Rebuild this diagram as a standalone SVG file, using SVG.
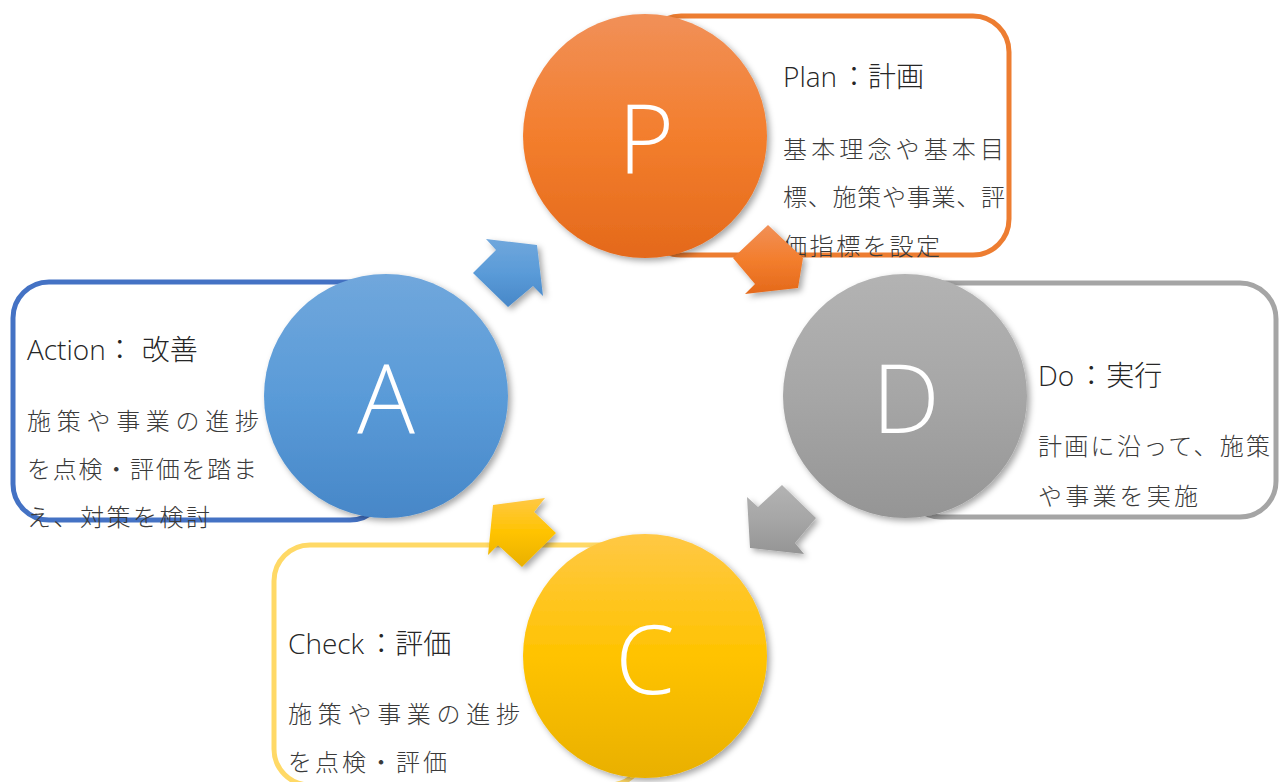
<svg xmlns="http://www.w3.org/2000/svg" width="1280" height="782" viewBox="0 0 1280 782">
<style>
.box{fill:#FFFFFF;stroke-width:5}
.letter{font-family:"Open Sans","Liberation Sans",sans-serif;font-weight:300;font-size:96px;fill:#FFFFFF;text-anchor:middle}
.title{font-family:"Open Sans","Noto Sans CJK JP",sans-serif;font-weight:300;font-size:28px;fill:#262626}
.body{font-family:"Noto Sans CJK JP",sans-serif;font-weight:300;font-size:24px;fill:#3A3A3A}
.sh{filter:url(#shadow)}
</style>
<defs>
<filter id="shadow" x="-20%" y="-20%" width="150%" height="150%">
<feDropShadow dx="3" dy="3" stdDeviation="3" flood-color="#000000" flood-opacity="0.35"/>
</filter>
<linearGradient id="gO" x1="0" y1="0" x2="0" y2="1"><stop offset="0" stop-color="#F19058"/><stop offset="0.5" stop-color="#F37E2D"/><stop offset="1" stop-color="#E4691B"/></linearGradient>
<linearGradient id="gB" x1="0" y1="0" x2="0" y2="1"><stop offset="0" stop-color="#70A7DC"/><stop offset="0.5" stop-color="#5A9BD8"/><stop offset="1" stop-color="#4787C8"/></linearGradient>
<linearGradient id="gG" x1="0" y1="0" x2="0" y2="1"><stop offset="0" stop-color="#B3B3B3"/><stop offset="0.5" stop-color="#A6A6A6"/><stop offset="1" stop-color="#959595"/></linearGradient>
<linearGradient id="gY" x1="0" y1="0" x2="0" y2="1"><stop offset="0" stop-color="#FFC845"/><stop offset="0.5" stop-color="#FFC300"/><stop offset="1" stop-color="#E9B000"/></linearGradient>
</defs>
<rect width="1280" height="782" fill="#FFFFFF"/>

<g id="node-P">
<rect class="box" x="645" y="16" width="364" height="239" rx="36" stroke="#ED7D31"/>
<circle class="sh" cx="645" cy="136" r="122" fill="url(#gO)"/>
<text class="letter" x="646" y="173">P</text>
<text class="title" x="783" y="87">Plan<tspan dx="3">：</tspan>計画</text>
<text class="body" x="783" y="158" textLength="221">基本理念や基本目</text>
<text class="body" x="783" y="206" textLength="222">標、施策や事業、評</text>
<text class="body" x="783" y="255" textLength="157">価指標を設定</text>
</g>

<g id="node-D">
<rect class="box" x="905" y="283" width="371" height="234" rx="36" stroke="#A5A5A5"/>
<circle class="sh" cx="905" cy="396" r="122" fill="url(#gG)"/>
<text class="letter" x="906" y="433">D</text>
<text class="title" x="1038" y="386">Do<tspan dx="3">：</tspan><tspan dx="1">実行</tspan></text>
<text class="body" x="1038" y="455" textLength="232">計画に沿って、施策</text>
<text class="body" x="1038" y="505" textLength="160">や事業を実施</text>
</g>

<g id="node-A">
<rect class="box" x="13" y="282" width="373" height="238" rx="36" stroke="#4472C4"/>
<circle class="sh" cx="386" cy="396" r="122" fill="url(#gB)"/>
<text class="letter" x="386" y="433">A</text>
<text class="title" x="27" y="360">Action：<tspan dx="8">改善</tspan></text>
<text class="body" x="27" y="430" textLength="232">施策や事業の進捗</text>
<text class="body" x="27" y="478" textLength="230">を点検・評価を踏ま</text>
<text class="body" x="27" y="526" textLength="183">え、対策を検討</text>
</g>

<g id="node-C">
<rect class="box" x="274" y="545" width="371" height="240" rx="36" stroke="#FFD966"/>
<circle class="sh" cx="645" cy="656" r="122" fill="url(#gY)"/>
<text class="letter" x="645" y="694">C</text>
<text class="title" x="288" y="654">Check<tspan dx="3">：</tspan>評価</text>
<text class="body" x="288" y="723" textLength="232">施策や事業の進捗</text>
<text class="body" x="288" y="771" textLength="159">を点検・評価</text>
</g>

<g id="connectors">
<polygon class="sh" points="486,239 537,245 543,296 533,286 508,307 473,273 496,250" fill="url(#gB)"/>
<polygon class="sh" points="768,225 803,258 798,288 745,294 755,284 733,258" fill="url(#gO)"/>
<polygon class="sh" points="782,485 816,518 795,543 804,554 750,548 747,497 758,507" fill="url(#gG)"/>
<polygon class="sh" points="545,498 493,505 488,555 498,545 522,567 556,533 534,512" fill="url(#gY)"/>
</g>
</svg>
